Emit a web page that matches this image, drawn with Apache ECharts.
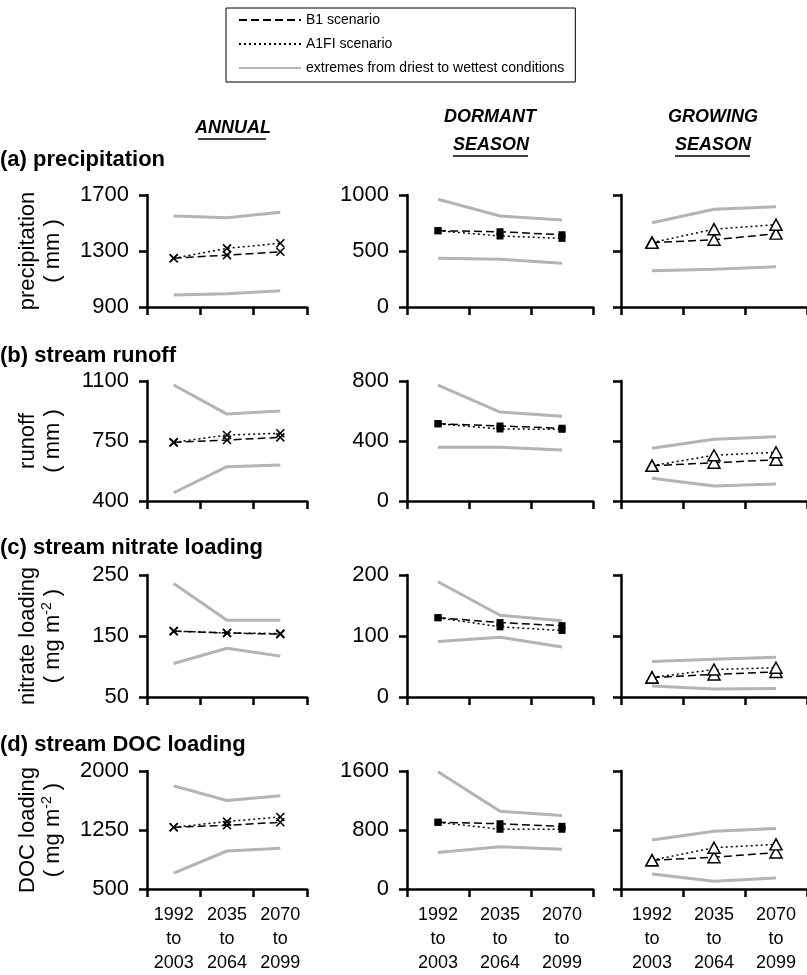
<!DOCTYPE html>
<html>
<head>
<meta charset="utf-8">
<script src="https://cdn.jsdelivr.net/npm/echarts@6/dist/echarts.min.js"></script>
<style>
html, body { margin: 0; padding: 0; background: #fff; }
#main { width: 807px; height: 975px; }
</style>
</head>
<body>
<div id="main"></div>
<script>
// categories
var periods = ['1992\nto\n2003', '2035\nto\n2064', '2070\nto\n2099'];
var seasons = ['ANNUAL', 'DORMANT SEASON', 'GROWING SEASON'];
var rowTitles = ['(a) precipitation', '(b) stream runoff', '(c) stream nitrate loading', '(d) stream DOC loading'];
var yNames = ['precipitation\n( mm )', 'runoff\n( mm )', 'nitrate loading\n( mg m{s|-2} )', 'DOC loading\n( mg m{s|-2} )'];
var legendNames = ['B1 scenario', 'A1FI scenario', 'extremes from driest to wettest conditions'];

// values per row: [annual, dormant, growing]
var precipB1   = [[1248, 1271, 1295], [681, 672, 645], [575, 600, 655]];
var precipA1FI = [[1248, 1319, 1355], [681, 634, 613], [575, 695, 735]];
var precipDry  = [[986, 995, 1016], [435, 426, 390], [324, 336, 360]];
var precipWet  = [[1550, 1538, 1576], [962, 812, 777], [753, 872, 896]];

var runoffB1   = [[742, 756, 771], [515, 500, 485], [235, 255, 275]];
var runoffA1FI = [[742, 785, 795], [515, 480, 478], [235, 305, 325]];
var runoffDry  = [[448, 600, 610], [358, 358, 340], [151, 100, 113]];
var runoffWet  = [[1077, 907, 925], [773, 593, 565], [351, 411, 429]];

var nitrateB1   = [[158, 155, 153], [130, 122, 117], [32, 37, 41]];
var nitrateA1FI = [[158, 155, 154], [130, 115, 109], [32, 45, 48]];
var nitrateDry  = [[105, 130, 117], [91, 98, 82], [18, 13, 14]];
var nitrateWet  = [[236, 176, 176], [189, 134, 125], [58, 62, 65]];

var docB1   = [[1285, 1310, 1348], [905, 885, 850], [390, 430, 495]];
var docA1FI = [[1285, 1357, 1416], [905, 810, 810], [390, 560, 605]];
var docDry  = [[702, 983, 1017], [494, 574, 538], [202, 104, 148]];
var docWet  = [[1811, 1625, 1685], [1590, 1053, 995], [663, 784, 820]];

// axis ranges
var axisMin = [[900, 0, 0], [400, 0, 0], [50, 0, 0], [500, 0, 0]];
var axisMax = [[1700, 1000, 1000], [1100, 800, 800], [250, 200, 200], [2000, 1600, 1600]];

var rows = [
    [precipB1, precipA1FI, precipDry, precipWet],
    [runoffB1, runoffA1FI, runoffDry, runoffWet],
    [nitrateB1, nitrateA1FI, nitrateDry, nitrateWet],
    [docB1, docA1FI, docDry, docWet]
];

var font = '"Liberation Sans", Arial, sans-serif';
var gridLeft = [147, 407, 621];
var gridWidth = [160, 186, 193];
var gridTop = [195, 381, 575, 771];
var gridHeight = [112, 120, 122, 119];

var markers = ['path://M0,0L10,10M0,10L10,0', 'rect', 'triangle'];
var markerSize = [8, 7, [12, 11]];
var grey = '#b4b4b4';

var myChart = echarts.init(document.getElementById('main'));

var grids = [], xAxes = [], yAxes = [], series = [];

// dummy series so the legend draws plain line icons
series.push({ name: legendNames[0], type: 'line', data: [], symbol: 'none', symbolSize: 0, xAxisIndex: 0, yAxisIndex: 0,
    itemStyle: { color: '#000', opacity: 0 }, lineStyle: { color: '#000', width: 1.5, type: [8, 4] } });
series.push({ name: legendNames[1], type: 'line', data: [], symbol: 'none', symbolSize: 0, xAxisIndex: 0, yAxisIndex: 0,
    itemStyle: { color: '#000', opacity: 0 }, lineStyle: { color: '#000', width: 1.5, type: [2, 3] } });
series.push({ name: legendNames[2], type: 'line', data: [], symbol: 'none', symbolSize: 0, xAxisIndex: 0, yAxisIndex: 0,
    itemStyle: { color: grey, opacity: 0 }, lineStyle: { color: grey, width: 3 } });

for (var r = 0; r < 4; r++)
{
    for (var c = 0; c < 3; c++)
    {
        var idx = r * 3 + c;
        grids.push({ left: gridLeft[c], top: gridTop[r], width: gridWidth[c], height: gridHeight[r] });
        xAxes.push({
            type: 'category',
            gridIndex: idx,
            data: periods,
            boundaryGap: true,
            axisLine: { lineStyle: { color: '#000', width: 2.5 } },
            axisTick: { show: true, length: 8, lineStyle: { color: '#000', width: 2.5 } },
            axisLabel: {
                show: r === 3, interval: 0, margin: 14,
                fontSize: 18, lineHeight: 24, color: '#000', fontFamily: font
            },
            splitLine: { show: false }
        });
        var yAxis = {
            type: 'value',
            gridIndex: idx,
            min: axisMin[r][c],
            max: axisMax[r][c],
            interval: (axisMax[r][c] - axisMin[r][c]) / 2,
            axisLine: { show: true, lineStyle: { color: '#000', width: 2.5 } },
            axisTick: { show: true, length: 8, lineStyle: { color: '#000', width: 2.5 } },
            axisLabel: {
                show: c < 2, margin: 18, fontSize: 22, color: '#000', fontFamily: font,
                formatter: function (v) { return String(v); }
            },
            splitLine: { show: false }
        };
        if (c === 0)
        {
            yAxis.name = yNames[r];
            yAxis.nameLocation = 'middle';
            yAxis.nameGap = 82;
            yAxis.nameTextStyle = {
                fontSize: 22, lineHeight: 25, color: '#000', fontFamily: font,
                rich: { s: { fontSize: 14, verticalAlign: 'top', lineHeight: 25, color: '#000', fontFamily: font } }
            };
        }
        yAxes.push(yAxis);

        var set = rows[r];
        series.push({
            name: legendNames[2], type: 'line', xAxisIndex: idx, yAxisIndex: idx,
            data: set[2][c], symbol: 'none', lineStyle: { color: grey, width: 3 }, z: 2
        });
        series.push({
            name: legendNames[2], type: 'line', xAxisIndex: idx, yAxisIndex: idx,
            data: set[3][c], symbol: 'none', lineStyle: { color: grey, width: 3 }, z: 2
        });
        var mStyle = c === 2
            ? { color: '#fff', borderColor: '#000', borderWidth: 1.5 }
            : { color: '#000', borderColor: '#000', borderWidth: c === 0 ? 1.6 : 0 };
        series.push({
            name: legendNames[0], type: 'line', xAxisIndex: idx, yAxisIndex: idx,
            data: set[0][c], symbol: markers[c], symbolSize: markerSize[c], showAllSymbol: true,
            lineStyle: { color: '#000', width: 1.5, type: [8, 4] }, itemStyle: mStyle, z: 3
        });
        series.push({
            name: legendNames[1], type: 'line', xAxisIndex: idx, yAxisIndex: idx,
            data: set[1][c], symbol: markers[c], symbolSize: markerSize[c], showAllSymbol: true,
            lineStyle: { color: '#000', width: 1.5, type: [2, 3] }, itemStyle: mStyle, z: 4
        });
    }
}

var headFont = 'italic bold 18px ' + font;
var graphics = [
    { type: 'text', x: 233, y: 128, style: { text: 'ANNUAL', align: 'center', verticalAlign: 'middle', font: headFont, fill: '#000' } },
    { type: 'line', shape: { x1: 198, y1: 139, x2: 266, y2: 139 }, style: { stroke: '#000', lineWidth: 1.5 } },
    { type: 'text', x: 490, y: 117, style: { text: 'DORMANT', align: 'center', verticalAlign: 'middle', font: headFont, fill: '#000' } },
    { type: 'text', x: 491, y: 145, style: { text: 'SEASON', align: 'center', verticalAlign: 'middle', font: headFont, fill: '#000' } },
    { type: 'line', shape: { x1: 453, y1: 156, x2: 528, y2: 156 }, style: { stroke: '#000', lineWidth: 1.5 } },
    { type: 'text', x: 713, y: 117, style: { text: 'GROWING', align: 'center', verticalAlign: 'middle', font: headFont, fill: '#000' } },
    { type: 'text', x: 713, y: 145, style: { text: 'SEASON', align: 'center', verticalAlign: 'middle', font: headFont, fill: '#000' } },
    { type: 'line', shape: { x1: 675, y1: 156, x2: 750, y2: 156 }, style: { stroke: '#000', lineWidth: 1.5 } }
];
var titleY = [160, 356, 548, 745];
for (var t = 0; t < rowTitles.length; t++)
{
    graphics.push({ type: 'text', x: 0, y: titleY[t],
        style: { text: rowTitles[t], align: 'left', verticalAlign: 'middle', font: 'bold 22px ' + font, fill: '#000' } });
}

option = {
    animation: false,
    backgroundColor: '#fff',
    legend: {
        orient: 'vertical', left: 226, top: 8,
        itemWidth: 62, itemHeight: 14, itemGap: 10,
        padding: [5, 11, 7, 12],
        borderColor: '#000', borderWidth: 1,
        selectedMode: false,
        itemStyle: { opacity: 0 },
        textStyle: { fontSize: 14, color: '#000', fontFamily: font },
        data: legendNames
    },
    grid: grids,
    xAxis: xAxes,
    yAxis: yAxes,
    series: series,
    graphic: graphics
};

myChart.setOption(option);
</script>
</body>
</html>
